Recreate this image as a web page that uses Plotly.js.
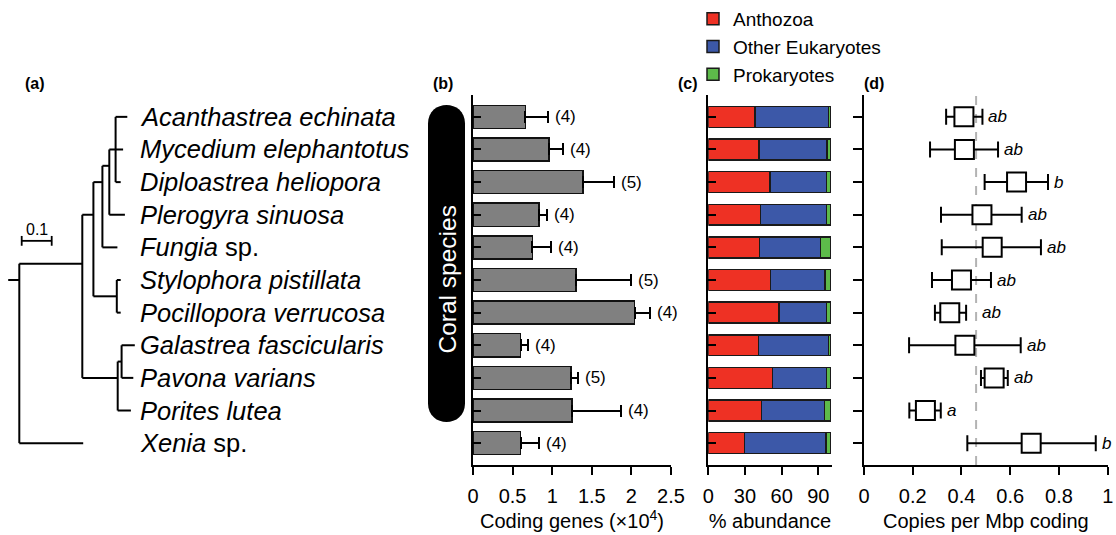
<!DOCTYPE html>
<html>
<head>
<meta charset="utf-8">
<script src="https://cdn.plot.ly/plotly-3.0.1.min.js"></script>
<style>html,body{margin:0;padding:0;background:#fff;}#chart{width:1116px;height:535px;}</style>
</head>
<body>
<div id="chart"></div>
<script>
// ---------------- data ----------------
const species = ["Acanthastrea echinata","Mycedium elephantotus","Diploastrea heliopora","Plerogyra sinuosa","Fungia sp.","Stylophora pistillata","Pocillopora verrucosa","Galastrea fascicularis","Pavona varians","Porites lutea","Xenia sp."];
// phylogeny (Newick, tips in the same order as species)
const treeNewick = "((((((Acan:0.039,Myc:0.025,Dip:0.017):0.021,Ple:0.052):0.023,Fun:0.05):0.03,(Sty:0.013,Poc:0.013):0.078):0.037,((Gal:0.044,Pav:0.039):0.013,Por:0.044):0.118):0.21,Xen:0.213):0.037;";
const scaleBarLength = 0.1;
// (b) coding genes (x10^4) and SD
const codingGenes   = [0.66, 0.96, 1.39, 0.835, 0.75, 1.30, 2.04, 0.60, 1.24, 1.25, 0.60];
const codingGenesSD = [0.285, 0.18, 0.39, 0.095, 0.23, 0.69, 0.19, 0.10, 0.08, 0.62, 0.23];
const nGenomes      = [4, 4, 5, 4, 4, 5, 4, 4, 5, 4, 4];
// (c) % abundance
const anthozoa  = [38.2, 41.5, 50.4, 42.8, 41.7, 51.0, 58.0, 40.9, 52.6, 43.6, 29.5];
const otherEuk  = [60.3, 55.5, 46.4, 54.0, 49.9, 44.4, 38.8, 57.6, 44.2, 51.3, 66.8];
const prokaryot = [1.5, 3.0, 3.2, 3.2, 8.4, 4.6, 3.2, 1.5, 3.2, 5.1, 3.7];
const abundanceTicks = [0, 30, 60, 90];
// (d) copies per Mbp coding
const copiesMean = [0.410, 0.412, 0.626, 0.484, 0.526, 0.400, 0.352, 0.414, 0.534, 0.252, 0.686];
const copiesLow  = [0.337, 0.271, 0.495, 0.316, 0.319, 0.279, 0.291, 0.185, 0.480, 0.186, 0.424];
const copiesHigh = [0.486, 0.550, 0.755, 0.647, 0.726, 0.521, 0.419, 0.643, 0.590, 0.315, 0.951];
const groupLetters = ["ab","ab","b","ab","ab","ab","ab","ab","ab","a","b"];
const copiesOverall = 0.46;
const geneTicks = [0, 0.5, 1, 1.5, 2, 2.5];
const geneTickText = ["0","0.5","1","1.5","2","2.5"];
const copiesTicks = [0, 0.2, 0.4, 0.6, 0.8, 1];
const copiesTickText = ["0","0.2","0.4","0.6","0.8","1"];

// ---------------- helpers ----------------
const W = 1116, H = 535;
const px = v => v / W;
const py = v => 1 - v / H;
const rows = species.map((_, i) => i);
const FONT = "Liberation Sans, Arial, Helvetica, sans-serif";
const yDom = [py(465), py(95)];
const yRange = [10.67, -0.67];

// Newick parser
function parseNewick(s) {
  let i = 0;
  function node() {
    const n = {children: [], name: "", len: 0};
    if (s[i] === "(") {
      i++;
      n.children.push(node());
      while (s[i] === ",") { i++; n.children.push(node()); }
      i++; // ')'
    }
    let name = "";
    while (i < s.length && !":,();".includes(s[i])) name += s[i++];
    n.name = name;
    if (s[i] === ":") {
      i++;
      let num = "";
      while (i < s.length && !",();".includes(s[i])) num += s[i++];
      n.len = parseFloat(num);
    }
    return n;
  }
  return node();
}
const tree = parseNewick(treeNewick);
let tipCounter = 0;
function layoutTree(n, x) {
  n.x = x;
  if (n.children.length === 0) { n.tips = [tipCounter++]; n.y = n.tips[0]; return; }
  n.tips = [];
  n.children.forEach(c => { layoutTree(c, x + c.len); n.tips = n.tips.concat(c.tips); });
  n.y = n.tips.reduce((a, b) => a + b, 0) / n.tips.length;
}
layoutTree(tree, 0);
const tx = [], ty = [];
tx.push(-tree.len, 0, null); ty.push(tree.y, tree.y, null);
(function walk(n) {
  if (!n.children.length) return;
  const ys = n.children.map(c => c.y);
  tx.push(n.x, n.x, null); ty.push(Math.min(...ys), Math.max(...ys), null);
  n.children.forEach(c => {
    tx.push(n.x, c.x, null); ty.push(c.y, c.y, null);
    walk(c);
  });
})(tree);

// ---------------- traces ----------------
const traces = [];
traces.push({type: "scatter", mode: "lines", x: tx, y: ty, xaxis: "x4", yaxis: "y4",
  line: {color: "#000", width: 2}, hoverinfo: "skip", showlegend: false});
const sbX0 = 0.008;
traces.push({type: "scatter", mode: "lines+markers", x: [sbX0, sbX0 + scaleBarLength], y: [3.8, 3.8],
  xaxis: "x4", yaxis: "y4", line: {color: "#000", width: 1.8},
  marker: {symbol: "line-ns", size: 7, line: {width: 1.8, color: "#000"}}, showlegend: false, hoverinfo: "skip"});

traces.push({type: "bar", orientation: "h", x: codingGenes, y: rows, xaxis: "x", yaxis: "y", width: 0.71,
  marker: {color: "#808080", line: {color: "#111", width: 1.5}},
  error_x: {type: "data", symmetric: false, array: codingGenesSD, arrayminus: codingGenes.map(() => 0),
    color: "#000", thickness: 2, width: 6}, showlegend: false});

const stackCols = [["Anthozoa", anthozoa, "#ee3124"], ["Other Eukaryotes", otherEuk, "#3c58a8"], ["Prokaryotes", prokaryot, "#5dbb4a"]];
stackCols.forEach(([nm, vals, col]) => traces.push({type: "bar", orientation: "h", name: nm, x: vals, y: rows,
  xaxis: "x2", yaxis: "y2", width: 0.64, marker: {color: col, line: {color: "#1a1a1a", width: 1.5}}}));

traces.push({type: "scatter", mode: "markers", x: copiesMean, y: rows, xaxis: "x3", yaxis: "y3",
  marker: {symbol: "square", size: 19, color: "#fff", line: {color: "#000", width: 2}},
  error_x: {type: "data", symmetric: false, array: copiesHigh.map((h, i) => h - copiesMean[i]),
    arrayminus: copiesLow.map((l, i) => copiesMean[i] - l), color: "#000", thickness: 2, width: 8},
  showlegend: false});

// ---------------- layout ----------------
const xCommon = {showline: true, linecolor: "#000", linewidth: 2, ticks: "outside", ticklen: 8, tickwidth: 2,
  tickcolor: "#000", showgrid: false, zeroline: false, tickfont: {size: 20, family: FONT, color: "#000"},
  fixedrange: true, ticklabelstandoff: 4};
const yCommon = {showline: true, linecolor: "#000", linewidth: 2, tickvals: rows, showticklabels: false,
  ticklen: 8, tickwidth: 2, tickcolor: "#000", showgrid: false, zeroline: false, range: yRange, domain: yDom, fixedrange: true};

const annotations = [];
species.forEach((s, i) => {
  let t = s.endsWith(" sp.") ? "<i>" + s.replace(" sp.", "") + "</i> sp." : "<i>" + s + "</i>";
  annotations.push({xref: "paper", x: px(138), xanchor: "left", yref: "y4", y: i, yanchor: "middle",
    text: t, showarrow: false, font: {size: 25.5, family: FONT, color: "#000"}});
});
nGenomes.forEach((n, i) => annotations.push({xref: "x", x: codingGenes[i] + codingGenesSD[i], xanchor: "left", xshift: 5,
  yref: "y", y: i, text: "(" + n + ")", showarrow: false, font: {size: 17, family: FONT, color: "#000"}}));
// letters sit right of the error bar; if they would collide with the overall line, they move past it
const letterWidth = 0.08;
groupLetters.forEach((g, i) => {
  let lx = copiesHigh[i];
  if (lx < copiesOverall && lx + letterWidth > copiesOverall) lx = copiesOverall;
  annotations.push({xref: "x3", x: lx, xanchor: "left", xshift: 4,
    yref: "y3", y: i, text: "<i>" + g + "</i>", showarrow: false, font: {size: 17, family: FONT, color: "#000"}});
});
[["(a)", 23], ["(b)", 443], ["(c)", 688], ["(d)", 886]].forEach(([t, x]) => annotations.push({xref: "paper", yref: "paper",
  x: px(x), y: py(73), text: "<b>" + t + "</b>", showarrow: false, font: {size: 16, family: FONT, color: "#000"}}));
annotations.push({xref: "x4", x: sbX0 + scaleBarLength / 2, yref: "y4", y: 3.45, text: String(scaleBarLength),
  showarrow: false, font: {size: 16, family: FONT, color: "#000"}});
annotations.push({xref: "paper", yref: "paper", x: px(446.5), y: py(280), text: "Coral species", textangle: -90,
  showarrow: false, font: {size: 24.5, family: FONT, color: "#fff"}});

// pill
const pl = px(428), pr = px(465), r = 18.5;
const pt = 105, pb = 422, k = r * 4 / 3;
const pillPath = `M${pl},${py(pt + r)} C${pl},${py(pt + r - k)} ${pr},${py(pt + r - k)} ${pr},${py(pt + r)} L${pr},${py(pb - r)} C${pr},${py(pb - r + k)} ${pl},${py(pb - r + k)} ${pl},${py(pb - r)} Z`;

const layout = {
  width: W, height: H, margin: {l: 0, r: 0, t: 0, b: 0}, paper_bgcolor: "#fff", plot_bgcolor: "rgba(0,0,0,0)",
  font: {family: FONT, color: "#000", size: 16},
  barmode: "stack", hovermode: false,
  xaxis: Object.assign({}, xCommon, {domain: [px(473), px(671)], range: [0, 2.5], anchor: "y",
    tickvals: geneTicks, ticktext: geneTickText,
    title: {text: "Coding genes (×10<sup>4</sup>)", font: {size: 20, family: FONT}, standoff: 8}}),
  yaxis: Object.assign({}, yCommon, {anchor: "x", ticks: "inside"}),
  xaxis2: Object.assign({}, xCommon, {domain: [px(708.3), px(831.5)], range: [0, 100.8], anchor: "y2",
    tickvals: abundanceTicks, title: {text: "% abundance", font: {size: 20, family: FONT}, standoff: 8}}),
  yaxis2: Object.assign({}, yCommon, {anchor: "x2", ticks: "inside"}),
  xaxis3: Object.assign({}, xCommon, {domain: [px(864), px(1107.7)], range: [0, 1], anchor: "y3",
    tickvals: copiesTicks, ticktext: copiesTickText,
    title: {text: "Copies per Mbp coding", font: {size: 20, family: FONT}, standoff: 8}}),
  yaxis3: Object.assign({}, yCommon, {anchor: "x3", ticks: "outside", ticklen: 9}),
  xaxis4: {domain: [0, px(230)], range: [-19.3 / 300, (230 - 19.3) / 300], visible: false, fixedrange: true, anchor: "y4"},
  yaxis4: {domain: yDom, range: yRange, visible: false, fixedrange: true, anchor: "x4"},
  legend: {x: px(693), xanchor: "left", y: 1, yanchor: "top", traceorder: "normal", bgcolor: "rgba(0,0,0,0)",
    font: {size: 19, family: FONT, color: "#000"}, itemwidth: 30},
  shapes: [
    {type: "path", xref: "paper", yref: "paper", path: pillPath, fillcolor: "#000", line: {width: 0}, layer: "below"},
    {type: "line", xref: "x3", yref: "y3", x0: copiesOverall, x1: copiesOverall, y0: yRange[0], y1: yRange[1],
      line: {color: "#b3b3b3", width: 2, dash: "dash"}, layer: "below"}
  ],
  annotations: annotations
};

Plotly.newPlot("chart", traces, layout, {staticPlot: true, displayModeBar: false});
</script>
</body>
</html>
